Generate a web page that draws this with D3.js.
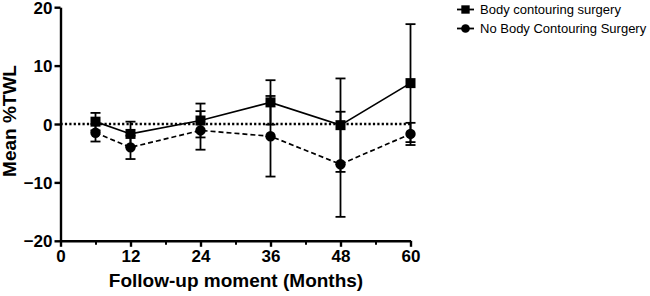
<!DOCTYPE html>
<html><head><meta charset="utf-8">
<script src="https://cdn.jsdelivr.net/npm/d3@7"></script>
<style>body{margin:0;background:#fff}svg{display:block}text{font-family:"Liberation Sans",Arial,sans-serif}</style>
</head><body><svg id="c" width="650" height="296"></svg>
<script>
const months = [6, 12, 24, 36, 48, 60];
const bodyMean = [0.4, -1.7, 0.6, 3.7, -0.2, 7.0];
const bodyErr = [1.5, 2.1, 2.9, 3.8, 8.0, 10.1];
const noMean = [-1.5, -4.0, -1.1, -2.1, -6.9, -1.7];
const noErr = [1.5, 2.0, 3.3, 6.9, 9.0, 1.9];
const xTicks = [0, 12, 24, 36, 48, 60];
const xMinorTicks = [6, 18, 30, 42, 54];
const yTicks = [-20, -10, 0, 10, 20];
const seriesNames = ["Body contouring surgery", "No Body Contouring Surgery"];

const svg = d3.select("#c");
const x = d3.scaleLinear().domain([0, 60]).range([60.5, 410.5]);
const y = d3.scaleLinear().domain([-20, 20]).range([240.8, 7.2]);

// zero dotted line
svg.append("line").attr("x1", x(0)).attr("x2", x(60)).attr("y1", y(0)).attr("y2", y(0))
  .attr("stroke", "#000").attr("stroke-width", 2.5).attr("stroke-dasharray", "2.2,2.2");

// axes
const xAxis = svg.append("g").attr("transform", `translate(0,${y(-20)})`)
  .call(d3.axisBottom(x).tickValues(xTicks).tickSize(6).tickPadding(2).tickSizeOuter(0));
svg.append("g").attr("transform", `translate(0,${y(-20)})`)
  .call(d3.axisBottom(x).tickValues(xMinorTicks).tickSize(4).tickFormat("").tickSizeOuter(0))
  .call(g => g.select(".domain").remove())
  .selectAll("line").attr("stroke-width", 2);
const yAxis = svg.append("g").attr("transform", `translate(${x(0)},0)`)
  .call(d3.axisLeft(y).tickValues(yTicks).tickSize(6).tickPadding(2).tickSizeOuter(0));
[xAxis, yAxis].forEach(a => {
  a.select(".domain").attr("stroke-width", 2.4);
  a.selectAll(".tick line").attr("stroke-width", 2.4);
  a.selectAll("text").attr("font-size", 17).attr("font-weight", "bold").attr("fill", "#000")
   .attr("font-family", '"Liberation Sans",Arial,sans-serif');
});
xAxis.selectAll("text").attr("dy", "0.75em");
yAxis.selectAll("text").attr("dy", "0.36em");

// axis titles
svg.append("text").attr("x", 236).attr("y", 287).attr("text-anchor", "middle")
  .attr("font-size", 19).attr("font-weight", "bold").text("Follow-up moment (Months)");
svg.append("text").attr("transform", "translate(15.5,121) rotate(-90)").attr("text-anchor", "middle")
  .attr("font-size", 19).attr("font-weight", "bold").text("Mean %TWL");

function drawSeries(means, errs, dash, shape) {
  const pts = months.map((m, i) => ({m, v: means[i], e: errs[i]}));
  const g = svg.append("g");
  // error bars
  pts.forEach(p => {
    g.append("line").attr("x1", x(p.m)).attr("x2", x(p.m)).attr("y1", y(p.v - p.e)).attr("y2", y(p.v + p.e))
      .attr("stroke", "#000").attr("stroke-width", 1.8);
    [p.v - p.e, p.v + p.e].forEach(vv => {
      g.append("line").attr("x1", x(p.m) - 5).attr("x2", x(p.m) + 5).attr("y1", y(vv)).attr("y2", y(vv))
        .attr("stroke", "#000").attr("stroke-width", 1.8);
    });
  });
  g.append("path").datum(pts)
    .attr("d", d3.line().x(d => x(d.m)).y(d => y(d.v)))
    .attr("fill", "none").attr("stroke", "#000").attr("stroke-width", 1.7)
    .attr("stroke-dasharray", dash);
  g.selectAll(".mk").data(pts).join("path")
    .attr("transform", d => `translate(${x(d.m)},${y(d.v)})`)
    .attr("d", d3.symbol().type(shape).size(shape === d3.symbolSquare ? 100 : 85))
    .attr("fill", "#000");
}
drawSeries(noMean, noErr, "5,3", d3.symbolCircle);
drawSeries(bodyMean, bodyErr, null, d3.symbolSquare);

// legend
const legend = svg.append("g");
[[d3.symbolSquare, 9.5], [d3.symbolCircle, 28.5]].forEach(([shape, ly], i) => {
  legend.append("line").attr("x1", 457).attr("x2", 474).attr("y1", ly).attr("y2", ly)
    .attr("stroke", "#000").attr("stroke-width", 1.8);
  legend.append("path").attr("transform", `translate(465.5,${ly})`)
    .attr("d", d3.symbol().type(shape).size(i === 0 ? 70 : 60)).attr("fill", "#000");
  legend.append("text").attr("x", 480).attr("y", ly).attr("dy", "0.35em")
    .attr("font-size", 13).text(seriesNames[i]);
});
</script></body></html>
